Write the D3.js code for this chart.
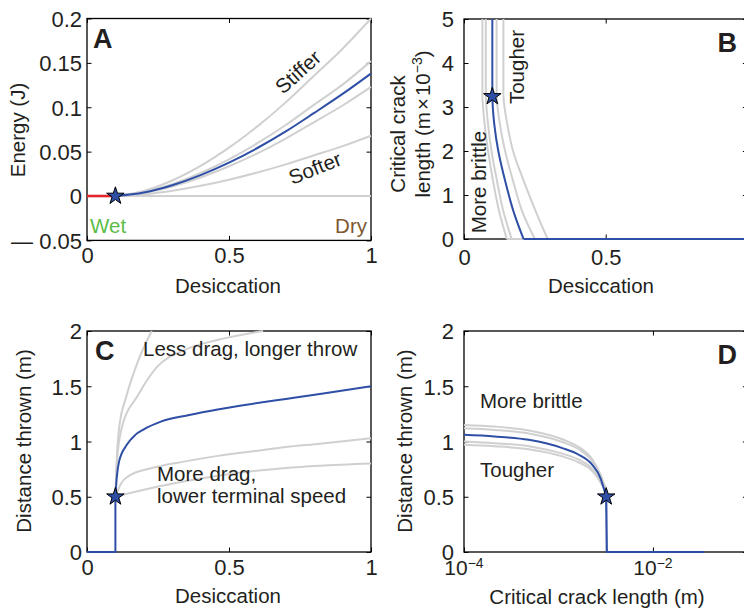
<!DOCTYPE html>
<html lang="en">
<head>
<meta charset="UTF-8">
<title>Desiccation, crack length and throw distance</title>
<script src="https://cdn.jsdelivr.net/npm/d3@7"></script>
<style>
  body { margin: 0; background: #fff; }
  svg text { font-family: "Liberation Sans", Arial, Helvetica, sans-serif; }
</style>
</head>
<body>
<svg id="chart" width="744" height="612"></svg>
<script>
// ---------- data ----------
// A: stored energy (J) against desiccation
const desA = [0.1, 0.2, 0.3, 0.4, 0.5, 0.6, 0.7, 0.8, 0.9, 1.0];
const energyBlue    = [0, 0.0039, 0.0121, 0.0235, 0.0376, 0.0541, 0.0728, 0.0936, 0.1150, 0.138];
const energyStiffer = [0, 0.0057, 0.0175, 0.0340, 0.0545, 0.0785, 0.1055, 0.1357, 0.1660, 0.200];
const energyStiff2  = [0, 0.0043, 0.0133, 0.0259, 0.0414, 0.0595, 0.0800, 0.1030, 0.1255, 0.152];
const energySoft2   = [0, 0.0035, 0.0108, 0.0209, 0.0335, 0.0481, 0.0648, 0.0833, 0.1020, 0.123];
const energySofter  = [0, 0.0019, 0.0059, 0.0115, 0.0184, 0.0265, 0.0357, 0.0459, 0.0562, 0.068];
const zeroX = [0.1, 1], zeroY = [0, 0];
const wetX = [0, 0.1], wetY = [0, 0];

// B: critical crack length (m x 1e-3) against desiccation, one entry per toughness
const critY = [0, 0.6, 1.3, 2.0, 2.6, 3.3, 5];
const critBrittle1 = [0.151, 0.125, 0.103, 0.085, 0.073, 0.065, 0.065];
const critBrittle2 = [0.168, 0.140, 0.117, 0.097, 0.085, 0.077, 0.077];
const critBlue     = [0.210, 0.176, 0.146, 0.121, 0.107, 0.100, 0.100];
const critTough1   = [0.250, 0.207, 0.174, 0.145, 0.127, 0.115, 0.115];
const critTough2   = [0.295, 0.255, 0.212, 0.173, 0.153, 0.139, 0.139];

// C: distance thrown (m) against desiccation
const throwBlueX = [0.1, 0.105, 0.113, 0.14, 0.17, 0.2, 0.26, 0.36, 0.46, 0.58, 0.7, 0.82, 1.0];
const throwBlueY = [0.5, 0.68, 0.82, 0.97, 1.06, 1.11, 1.18, 1.24, 1.29, 1.34, 1.385, 1.43, 1.5];
const throwLess1X = [0.1, 0.104, 0.113, 0.14, 0.18, 0.228];
const throwLess1Y = [0.5, 0.8, 1.12, 1.42, 1.73, 2.0];
const throwLess2X = [0.1, 0.105, 0.122, 0.18, 0.245, 0.345, 0.462, 0.62];
const throwLess2Y = [0.5, 0.8, 1.12, 1.42, 1.67, 1.83, 1.92, 2.0];
const throwMore1X = [0.1, 0.12, 0.145, 0.228, 0.345, 0.46, 0.58, 0.7, 0.82, 1.0];
const throwMore1Y = [0.5, 0.62, 0.685, 0.76, 0.82, 0.87, 0.91, 0.95, 0.98, 1.03];
const throwMore2X = [0.1, 0.145, 0.228, 0.345, 0.46, 0.58, 0.7, 0.82, 1.0];
const throwMore2Y = [0.5, 0.53, 0.58, 0.64, 0.69, 0.73, 0.76, 0.78, 0.8];
const throwWetX = [0, 0.1, 0.1], throwWetY = [0, 0, 0.5];

// D: distance thrown (m) against critical crack length (m)
const crackX = [1e-4, 2.1e-4, 4.85e-4, 1.1e-3, 1.64e-3, 2.27e-3, 2.79e-3, 3.2e-3];
const distBlue     = [1.06, 1.045, 1.015, 0.94, 0.88, 0.79, 0.667, 0.5];
const distBrittle1 = [1.15, 1.135, 1.10, 1.02, 0.95, 0.84, 0.70, 0.56];
const distBrittle2 = [1.12, 1.105, 1.073, 0.995, 0.93, 0.825, 0.69, 0.55];
const distTough1   = [1.00, 0.985, 0.958, 0.89, 0.835, 0.755, 0.645, 0.54];
const distTough2   = [0.97, 0.957, 0.93, 0.865, 0.81, 0.735, 0.63, 0.53];
const dropX = [3.2e-3, 3.25e-3, 0.0347], dropY = [0.5, 0, 0];

// ticks
const ticksDes = [0, 0.5, 1];
const ticksEnergy = [-0.05, 0, 0.05, 0.1, 0.15, 0.2];
const ticksCrit = [0, 1, 2, 3, 4, 5];
const ticksDist = [0, 0.5, 1, 1.5, 2];
const ticksCrack = [1e-4, 1e-2];
const crackTickExp = ['−4', '−2'];

// ---------- drawing ----------
const blue = '#2f4fa6', gray = '#d0d0d0', ink = '#231f20';
const tickFont = 22, labelFont = 20.5;
const svg = d3.select('#chart');
svg.append('rect').attr('width', 744).attr('height', 612).attr('fill', '#fff');

// the figure writes negative ticks with a long dash and a gap
const fmt = d => (d < 0 ? '— ' : '') + String(Math.abs(d));

function panel(p) {
  const g = svg.append('g');
  const x = (p.log ? d3.scaleLog() : d3.scaleLinear()).domain(p.xDomain).range([p.left, p.right]);
  const y = d3.scaleLinear().domain(p.yDomain).range([p.bottom, p.top]);

  const setup = sel => {
    sel.attr('font-size', tickFont).attr('font-family', null);
    sel.select('.domain').remove();
    sel.selectAll('.tick line').attr('stroke', '#000').attr('stroke-width', 1);
    sel.selectAll('.tick text').style('fill', ink);
  };
  // labels past the right edge of the picture are left out (as in the figure)
  const xFmt = p.log ? '' : (d => (x(d) > 740 ? '' : fmt(d)));
  g.append('g').attr('transform', `translate(0,${p.bottom})`)
    .call(d3.axisBottom(x).tickValues(p.xTicks).tickFormat(xFmt).tickSizeInner(-4.5).tickSizeOuter(0))
    .call(setup)
    .selectAll('.tick text').attr('y', p.xTickY).attr('dy', null);
  g.append('g').attr('transform', `translate(0,${p.top})`)
    .call(d3.axisTop(x).tickValues(p.xTicks).tickFormat('').tickSizeInner(-4.5).tickSizeOuter(0))
    .call(setup);
  g.append('g').attr('transform', `translate(${p.left},0)`)
    .call(d3.axisLeft(y).tickValues(p.yTicks).tickFormat(fmt).tickSizeInner(-4.5).tickSizeOuter(0))
    .call(setup)
    .selectAll('.tick text').attr('x', -p.yPad).attr('dy', '0.36em');
  g.append('g').attr('transform', `translate(${p.right},0)`)
    .call(d3.axisRight(y).tickValues(p.yTicks).tickFormat('').tickSizeInner(-4.5).tickSizeOuter(0))
    .call(setup);

  g.append('rect')
    .attr('x', p.left).attr('y', p.top)
    .attr('width', p.right - p.left).attr('height', p.bottom - p.top)
    .attr('fill', 'none').attr('stroke', '#000').attr('stroke-width', 1.3);

  return { g, x, y };
}

function curve(ctx, xs, ys, color, width, curveType) {
  const pts = xs.map((v, i) => [v, ys[i]]);
  ctx.g.append('path')
    .attr('d', d3.line().x(d => ctx.x(d[0])).y(d => ctx.y(d[1])).curve(curveType || d3.curveMonotoneX)(pts))
    .attr('fill', 'none').attr('stroke', color).attr('stroke-width', width)
    .attr('stroke-linejoin', 'round');
}

function star(ctx, xv, yv) {
  ctx.g.append('path')
    .attr('d', d3.symbol(d3.symbolStar, 95)())
    .attr('transform', `translate(${ctx.x(xv)},${ctx.y(yv)})`)
    .attr('fill', blue).attr('stroke', '#000').attr('stroke-width', 1);
}

function label(ctx, txt, xp, yp, opts = {}) {
  const t = ctx.g.append('text').attr('x', xp).attr('y', yp)
    .attr('font-size', opts.size || labelFont)
    .attr('text-anchor', opts.anchor || 'start')
    .style('fill', opts.color || ink);
  if (opts.weight) t.attr('font-weight', opts.weight);
  if (opts.rotate !== undefined) t.attr('transform', `rotate(${opts.rotate},${xp},${yp})`);
  if (opts.dy) t.attr('dy', opts.dy);
  t.text(txt);
  return t;
}

// ----- Panel A -----
const A = panel({ left: 87, right: 371, top: 18.5, bottom: 240.4, xDomain: [0, 1], yDomain: [-0.05, 0.2],
  xTicks: ticksDes, yTicks: ticksEnergy, xTickY: 23, yPad: 5 });
curve(A, zeroX, zeroY, gray, 2, d3.curveLinear);
[energyStiffer, energyStiff2, energySoft2, energySofter].forEach(s => curve(A, desA, s, gray, 2));
curve(A, desA, energyBlue, blue, 2);
curve(A, wetX, wetY, '#e3262c', 2.6, d3.curveLinear);
star(A, 0.1, 0);
label(A, 'A', 93, 48, { size: 27, weight: 'bold' });
label(A, 'Stiffer', 298, 72, { rotate: -42, anchor: 'middle', dy: '0.35em' });
label(A, 'Softer', 315, 168, { rotate: -22, anchor: 'middle', dy: '0.35em' });
label(A, 'Wet', 90, 233, { color: '#5bbd47' });
label(A, 'Dry', 367, 233, { color: '#7d5831', anchor: 'end' });
label(A, 'Desiccation', 228, 293, { anchor: 'middle' });
label(A, 'Energy (J)', 25, 130, { anchor: 'middle', rotate: -90 });

// ----- Panel B -----
const B = panel({ left: 464, right: 747.4, top: 19, bottom: 239, xDomain: [0, 1], yDomain: [0, 5],
  xTicks: ticksDes, yTicks: ticksCrit, xTickY: 26, yPad: 10 });
[critBrittle1, critBrittle2, critTough1, critTough2].forEach(s => {
  curve(B, s, critY, gray, 2, d3.curveMonotoneY);
  curve(B, [s[0], 1], [0, 0], gray, 2, d3.curveLinear);
});
curve(B, critBlue, critY, blue, 2, d3.curveMonotoneY);
curve(B, [critBlue[0], 1], [0, 0], blue, 2.2, d3.curveLinear);
star(B, 0.1, 3.24);
label(B, 'B', 737, 52, { size: 27, weight: 'bold', anchor: 'end' });
label(B, 'Tougher', 524, 67, { rotate: -90, anchor: 'middle' });
label(B, 'More brittle', 486, 182, { rotate: -90, anchor: 'middle' });
label(B, 'Desiccation', 601, 293, { anchor: 'middle' });
label(B, 'Critical crack', 405, 134, { rotate: -90, anchor: 'middle' });
const bl = label(B, '', 430, 124, { rotate: -90, anchor: 'middle' });
bl.append('tspan').text('length (m');
bl.append('tspan').text('×').attr('dx', 2);
bl.append('tspan').text('10').attr('dx', 2);
bl.append('tspan').text('−3').attr('font-size', 14).attr('dy', -8);
bl.append('tspan').text(')').attr('dy', 8);

// ----- Panel C -----
const C = panel({ left: 87, right: 371, top: 331, bottom: 552, xDomain: [0, 1], yDomain: [0, 2],
  xTicks: ticksDes, yTicks: ticksDist, xTickY: 23, yPad: 5 });
curve(C, throwLess1X, throwLess1Y, gray, 2);
curve(C, throwLess2X, throwLess2Y, gray, 2);
curve(C, throwMore1X, throwMore1Y, gray, 2);
curve(C, throwMore2X, throwMore2Y, gray, 2);
curve(C, throwWetX, throwWetY, blue, 2, d3.curveLinear);
curve(C, throwBlueX, throwBlueY, blue, 2);
star(C, 0.1, 0.5);
label(C, 'C', 95, 360, { size: 27, weight: 'bold' });
label(C, 'Less drag, longer throw', 143, 356);
label(C, 'More drag,', 157, 481);
label(C, 'lower terminal speed', 157, 503);
label(C, 'Desiccation', 228, 603, { anchor: 'middle' });
label(C, 'Distance thrown (m)', 31, 441, { anchor: 'middle', rotate: -90 });

// ----- Panel D -----
const D = panel({ left: 464, right: 747.4, top: 331, bottom: 552, log: true, xDomain: [1e-4, 1e-1], yDomain: [0, 2],
  xTicks: ticksCrack, yTicks: ticksDist, xTickY: 21, yPad: 10 });
[distBrittle1, distBrittle2, distTough1, distTough2].forEach(s => curve(D, crackX, s, gray, 2));
curve(D, crackX, distBlue, blue, 2);
curve(D, dropX, dropY, blue, 2.2, d3.curveLinear);
star(D, 3.2e-3, 0.5);
ticksCrack.forEach((v, i) => {
  const t = D.g.append('text').attr('x', D.x(v)).attr('y', 575).attr('font-size', 21)
    .attr('text-anchor', 'middle').style('fill', ink);
  t.append('tspan').text('10');
  t.append('tspan').text(crackTickExp[i]).attr('font-size', 14).attr('dy', -7);
});
label(D, 'D', 737, 364, { size: 27, weight: 'bold', anchor: 'end' });
label(D, 'More brittle', 480, 408);
label(D, 'Tougher', 480, 477);
label(D, 'Critical crack length (m)', 597, 604, { anchor: 'middle' });
label(D, 'Distance thrown (m)', 412, 441, { anchor: 'middle', rotate: -90 });
</script>
</body>
</html>
